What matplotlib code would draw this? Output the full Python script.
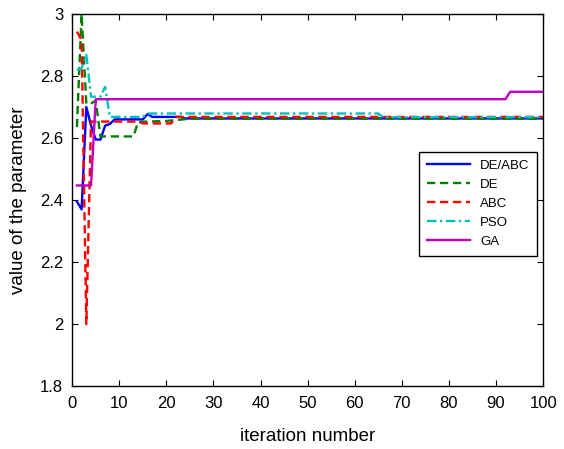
import matplotlib
matplotlib.use('Agg')
import matplotlib.pyplot as plt

plt.rcParams['font.family'] = ['Liberation Sans', 'DejaVu Sans']

# Best parameter value per iteration (breakpoints of each convergence curve)
iters_deabc = [1, 2, 3, 4, 5, 6, 7, 8, 9, 15, 16, 17, 23, 24, 100]
vals_deabc = [2.395, 2.37, 2.70, 2.64, 2.595, 2.595, 2.64, 2.645, 2.66, 2.66,
              2.677, 2.668, 2.668, 2.663, 2.663]

iters_de = [1, 2, 3, 4, 5, 6, 13, 14, 20, 25, 100]
vals_de = [2.635, 3.0, 2.71, 2.712, 2.72, 2.605, 2.605, 2.652, 2.655, 2.662, 2.662]

iters_abc = [1, 2, 3, 4, 14, 15, 21, 22, 100]
vals_abc = [2.943, 2.915, 2.0, 2.653, 2.653, 2.647, 2.647, 2.668, 2.668]

iters_pso = [1, 2, 3, 4, 6, 7, 8, 15, 16, 65, 66, 100]
vals_pso = [2.82, 2.825, 2.868, 2.733, 2.733, 2.765, 2.668, 2.668, 2.679, 2.679,
            2.667, 2.667]

iters_ga = [1, 4, 5, 92, 93, 100]
vals_ga = [2.447, 2.447, 2.725, 2.725, 2.749, 2.749]

xticks = [0, 10, 20, 30, 40, 50, 60, 70, 80, 90, 100]
yticks = [1.8, 2.0, 2.2, 2.4, 2.6, 2.8, 3.0]
ytick_labels = ['1.8', '2', '2.2', '2.4', '2.6', '2.8', '3']

fig = plt.figure(figsize=(5.64, 4.49), dpi=100)
ax = fig.add_axes([0.128, 0.140, 0.835, 0.829])

lw = 1.7
ax.plot(iters_deabc, vals_deabc, color='#0000ff', lw=lw, label='DE/ABC')
ax.plot(iters_de, vals_de, color='#008000', lw=lw, ls=(0, (3.5, 2)), label='DE')
ax.plot(iters_abc, vals_abc, color='#ff0000', lw=lw, ls=(0, (3.5, 2)), label='ABC')
ax.plot(iters_pso, vals_pso, color='#00bfbf', lw=lw, ls=(0, (4, 1.5, 1, 1.5)), label='PSO')
ax.plot(iters_ga, vals_ga, color='#bf00bf', lw=lw, label='GA')

ax.set_xlim(0, 100)
ax.set_ylim(1.8, 3.0)
ax.set_xticks(xticks)
ax.set_yticks(yticks)
ax.set_yticklabels(ytick_labels)
ax.tick_params(direction='in', top=True, right=True, length=4, labelsize=12, width=0.8)
ax.tick_params(axis='x', pad=7)
ax.tick_params(axis='y', pad=6.5)
for s in ax.spines.values():
    s.set_linewidth(1.0)

ax.set_xlabel('iteration number', fontsize=13.5, labelpad=12)
ax.set_ylabel('value of the parameter', fontsize=13.5, labelpad=9)

leg = ax.legend(loc='upper right', bbox_to_anchor=(1.002, 0.648), fontsize=9.5,
                fancybox=False, edgecolor='black', framealpha=1,
                handlelength=3.2, borderpad=0.6, labelspacing=0.52)
leg.get_frame().set_linewidth(1.0)

fig.savefig('out.png', dpi=100)
